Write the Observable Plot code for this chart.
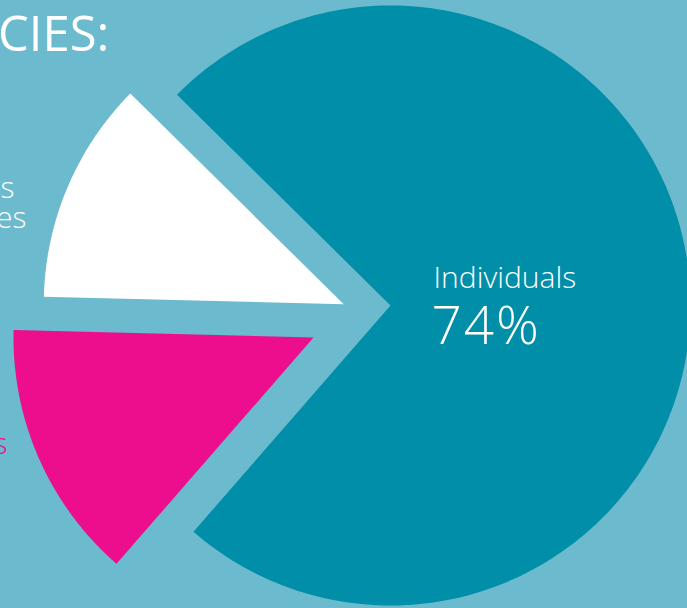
<!DOCTYPE html>
<html><head><meta charset="utf-8">
<script src="https://cdn.jsdelivr.net/npm/d3@7"></script>
<script src="https://cdn.jsdelivr.net/npm/@observablehq/plot@0.6"></script>
<style>
html,body{margin:0;padding:0;background:#6bbacd;overflow:hidden}
#chart svg{display:block}
</style></head><body><div id="chart"></div>
<script>
// ---- data ----
const categories = ["Individuals", "Pink group", "White group"];
const shares = [74, 14, 12];
const sliceColors = ["#008ea8", "#ec0e8c", "#ffffff"];
const shareLabels = ["74%"];
const titleText = "CIES:";
const whiteLabelLines = ["s", "es"];
const pinkLabelLines = ["s"];

// ---- layout ----
const W = 687, H = 608;
const cx = 390, cy = 305, R = 300;
const start = -45.35 * Math.PI / 180;
const pie = d3.pie().sort(null).startAngle(start).endAngle(start + 2 * Math.PI);
const arcs = pie(shares);
// gap widths pushed onto each slice edge: [start edge, end edge]
const edgeOffsets = [[0, 0], [37, 34], [0, 32]];

function apex(a0, a1, o0, o1) {
  const A = Math.cos(a0), B = Math.sin(a0), C = -Math.cos(a1), D = -Math.sin(a1);
  const det = A * D - B * C;
  if (Math.abs(det) < 1e-9) return [cx, cy];
  const dx = (o0 * D - B * o1) / det, dy = (A * o1 - C * o0) / det;
  return [cx + dx, cy + dy];
}

const sliceMarks = arcs.map((a, i) => {
  const [px, py] = apex(a.startAngle, a.endAngle, edgeOffsets[i][0], edgeOffsets[i][1]);
  const pts = [{x: px, y: py}];
  const n = 200;
  for (let k = 0; k <= n; k++) {
    const t = a.startAngle + (a.endAngle - a.startAngle) * k / n;
    pts.push({x: px + R * Math.sin(t), y: py - R * Math.cos(t)});
  }
  return Plot.line(pts, {x: "x", y: "y", fill: sliceColors[i], stroke: "none", curve: "linear-closed"});
});

const font = "'Open Sans', 'Segoe UI', sans-serif";
const mid = (baseline, size) => baseline - 0.32 * size;

const chart = Plot.plot({
  width: W, height: H,
  margin: 0,
  style: {background: "#6bbacd", fontFamily: font},
  x: {domain: [0, W], range: [0, W], axis: null},
  y: {domain: [0, H], range: [0, H], axis: null},
  marks: [
    ...sliceMarks,
    Plot.text([categories[0]], {x: cx + 43, y: mid(287, 30), text: d => d, fill: "white", fontSize: 30, fontWeight: 300, textAnchor: "start"}),
    Plot.text(shareLabels, {x: cx + 41, y: mid(343, 53), text: d => d, fill: "white", fontSize: 53, fontWeight: 300, textAnchor: "start"}),
    Plot.text([titleText], {x: 109, y: mid(50, 49), text: d => d, fill: "white", fontSize: 49, fontWeight: 400, textAnchor: "end"}),
    Plot.text(whiteLabelLines, {x: (d, i) => [14, 26][i], y: (d, i) => mid(197 + 30 * i, 30), text: d => d, fill: "white", fontSize: 30, fontWeight: 300, textAnchor: "end"}),
    Plot.text(pinkLabelLines, {x: 7, y: mid(453, 30), text: d => d, fill: "#ec0e8c", fontSize: 30, fontWeight: 300, textAnchor: "end"})
  ]
});
d3.select(chart).selectAll("text").filter(function() { return this.textContent === "74%"; }).attr("letter-spacing", 2);
document.getElementById("chart").append(chart);
</script></body></html>
